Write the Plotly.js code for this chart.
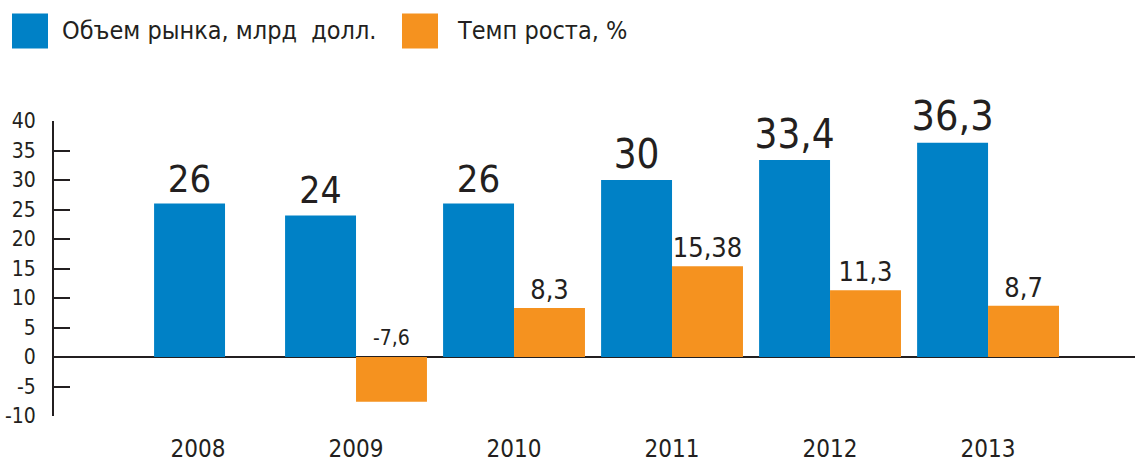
<!DOCTYPE html>
<html>
<head>
<meta charset="utf-8">
<script src="https://cdn.plot.ly/plotly-3.0.1.min.js"></script>
<style>html,body{margin:0;padding:0;background:#fff;}#chart{width:1135px;height:464px;}</style>
</head>
<body>
<div id="chart"></div>
<script>
// ---- data ----
var years = ['2008', '2009', '2010', '2011', '2012', '2013'];
var marketVolume = [26, 24, 26, 30, 33.4, 36.3];          // млрд долл.
var growthRate = [null, -7.6, 8.3, 15.38, 11.3, 8.7];     // %
var yTickVals = [-10, -5, 0, 5, 10, 15, 20, 25, 30, 35, 40];
var yTickText = ['-10', '-5', '0', '5', '10', '15', '20', '25', '30', '35', '40'];
var seriesNames = ['Объем рынка, млрд\u00a0 долл.', 'Темп роста, %'];

// ---- style ----
var BLUE = '#0081c6', ORANGE = '#f5921f', INK = '#231f20';
var FONT = '"DejaVu Sans Condensed", "Liberation Sans Narrow", "Roboto Condensed", Roboto, sans-serif';
var W = 0.449;                     // bar width in category units
var M = {l: 54, r: 0, t: 121, b: 48};
var PW = 1135 - M.l - M.r, PH = 464 - M.t - M.b;
function px(x) { return (x - M.l) / PW; }
function py(y) { return (464 - M.b - y) / PH; }
function fmt(v) { return v === null ? '' : String(v).replace('.', ','); }

var blueOffsets = years.map(function (y, i) { return i === 0 ? -0.278 : -W; });
var blueSizes = [38, 37, 38, 40, 40, 41];

var orangeText = growthRate.map(function (v) { return (v === null || v < 0) ? '' : fmt(v); });

var traces = [
  {
    type: 'bar', name: seriesNames[0], x: years, y: marketVolume,
    width: W, offset: blueOffsets,
    marker: {color: BLUE, line: {width: 0}},
    text: marketVolume.map(fmt), textposition: 'outside', constraintext: 'none',
    textfont: {family: FONT, size: blueSizes, color: INK},
    cliponaxis: false, hoverinfo: 'skip', showlegend: false
  },
  {
    type: 'bar', name: seriesNames[1], x: years, y: growthRate,
    width: W, offset: 0,
    marker: {color: ORANGE, line: {width: 0}},
    text: orangeText, textposition: 'outside', constraintext: 'none',
    textfont: {family: FONT, size: 27, color: INK},
    cliponaxis: false, hoverinfo: 'skip', showlegend: false
  }
];

var annotations = [];
growthRate.forEach(function (v, i) {
  if (v !== null && v < 0) {
    annotations.push({
      x: i + W / 2, y: 0, xref: 'x', yref: 'y', text: fmt(v), showarrow: false,
      xanchor: 'center', yanchor: 'bottom', yshift: 5,
      font: {family: FONT, size: 21, color: INK}
    });
  }
});
// legend (drawn as shapes + text)
var legendItems = [
  {sx: 12, tx: 60, color: BLUE, label: seriesNames[0]},
  {sx: 402, tx: 455, color: ORANGE, label: seriesNames[1]}
];
var shapes = [];
legendItems.forEach(function (it) {
  shapes.push({type: 'rect', xref: 'paper', yref: 'paper',
    x0: px(it.sx), x1: px(it.sx + 36), y0: py(48.5), y1: py(13.5),
    fillcolor: it.color, line: {width: 0}});
  annotations.push({xref: 'paper', yref: 'paper', x: px(it.tx), y: py(30.5),
    xanchor: 'left', yanchor: 'middle', text: it.label, showarrow: false,
    font: {family: FONT, size: 25, color: INK}});
});

var layout = {
  width: 1135, height: 464, margin: M,
  paper_bgcolor: '#fff', plot_bgcolor: '#fff',
  barmode: 'overlay', showlegend: false,
  font: {family: FONT, color: INK},
  xaxis: {
    type: 'category', range: [-0.9114, 5.93], showgrid: false, zeroline: false,
    showline: false, ticks: '', ticklabelstandoff: 16,
    tickfont: {family: FONT, size: 24, color: INK}
  },
  yaxis: {
    range: [-10, 40], tickmode: 'array', tickvals: yTickVals, ticktext: yTickText,
    showgrid: false, showline: true, linecolor: INK, linewidth: 2,
    ticks: 'inside', ticklen: 16, tickwidth: 2, tickcolor: INK,
    zeroline: true, zerolinecolor: INK, zerolinewidth: 2,
    ticklabelstandoff: 12,
    tickfont: {family: FONT, size: 21, color: INK}
  },
  shapes: shapes,
  annotations: annotations
};

Plotly.newPlot('chart', traces, layout, {displayModeBar: false, staticPlot: true});
</script>
</body>
</html>
